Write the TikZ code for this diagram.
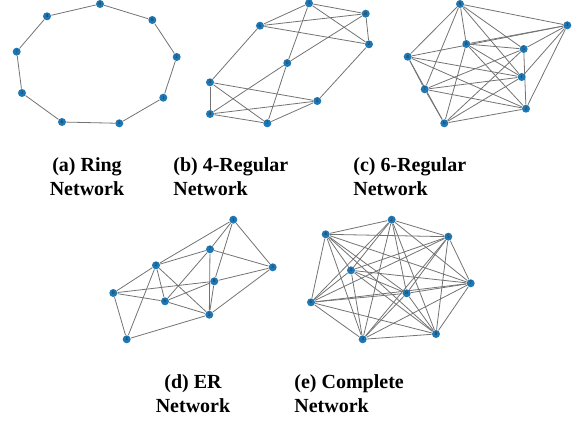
\documentclass[tikz,border=0pt]{standalone}
\usepackage{fontspec}
\setmainfont{Liberation Serif}
\usepackage{tikz}
\usetikzlibrary{backgrounds}
\definecolor{nodeblue}{HTML}{1F77B4}

\begin{document}
\begin{tikzpicture}[x=0.5pt,y=-0.5pt,
  vertex/.style={circle,fill=nodeblue,inner sep=0pt,minimum size=4pt,text=black!85,font=\fontsize{2.5}{2.5}\selectfont},
  link/.style={draw=black!55,line width=0.4pt},
  subcap/.style={font=\bfseries\fontsize{10}{11.5}\selectfont,inner sep=0pt}]

    \useasboundingbox (0,0) rectangle (580,423);

    % (a) ring
    \foreach \n/\x/\y in {0/100/4, 8/152.3/20, 2/176.7/57, 1/163.3/97.7, 5/119.3/123.3,
        6/62/122, 3/22/93, 7/16.7/51.7, 4/47/16.3}
        \node[vertex] (a\n) at (\x,\y) {\n};
    \begin{scope}[on background layer]
        \foreach \u/\v in {0/8, 8/2, 2/1, 1/5, 5/6, 6/3, 3/7, 7/4, 4/0}
            \draw[link] (a\u) -- (a\v);
    \end{scope}

    % (b) 4-regular
    \foreach \n/\x/\y in {1/309/3.3, 8/365.7/13.7, 2/369/44.3, 6/260/25.7, 0/287.3/63,
        3/210/82.3, 5/317.3/101, 4/210/114, 7/267.3/123.3}
        \node[vertex] (b\n) at (\x,\y) {\n};
    \begin{scope}[on background layer]
        \foreach \u/\v in {1/8, 1/6, 1/2, 1/0, 8/6, 8/2, 8/0, 2/6, 2/5, 6/3,
            0/4, 0/7, 3/4, 3/5, 3/7, 4/5, 4/7, 5/7}
            \draw[link] (b\u) -- (b\v);
    \end{scope}

    % (c) 6-regular
    \foreach \n/\x/\y in {0/460/4, 3/567.3/25.3, 8/466.3/44, 5/523.7/49, 4/407.7/56.7,
        1/521.7/77, 7/424.7/89.3, 2/526/108.7, 6/444.3/123.3}
        \node[vertex] (c\n) at (\x,\y) {\n};
    \begin{scope}[on background layer]
        \foreach \u/\v in {0/1, 0/3, 0/4, 0/5, 0/7, 0/8, 1/3, 1/4, 1/6, 1/7, 1/8,
            2/3, 2/4, 2/5, 2/6, 2/7, 2/8, 3/4, 3/5, 3/8, 4/6, 4/7, 5/6, 5/7, 5/8,
            6/7, 6/8}
            \draw[link] (c\u) -- (c\v);
    \end{scope}

    % (d) ER
    \foreach \n/\x/\y in {1/233.3/219.7, 7/210/249.3, 3/272.7/267.3, 2/156/265.3,
        8/214.3/281.3, 0/113.3/293, 6/165/301.3, 5/209.3/314.7, 4/126.7/339.3}
        \node[vertex] (d\n) at (\x,\y) {\n};
    \begin{scope}[on background layer]
        \foreach \u/\v in {1/2, 1/7, 1/3, 1/8, 7/2, 7/3, 7/6, 7/5, 2/0, 2/4, 2/6,
            2/5, 0/8, 0/6, 0/4, 8/3, 8/6, 8/5, 6/5, 5/3, 5/4}
            \draw[link] (d\u) -- (d\v);
    \end{scope}

    % (e) complete
    \foreach \n/\x/\y in {2/391.7/219.7, 4/325.7/234.3, 5/448.3/236.7, 1/351/270.3,
        7/470.7/283.3, 8/406.7/293.3, 6/311/302.3, 3/362.7/339.3, 0/436/334}
        \node[vertex] (e\n) at (\x,\y) {\n};
    \begin{scope}[on background layer]
        \foreach \u in {0,...,7}{
            \pgfmathtruncatemacro\w{\u+1}
            \foreach \v in {\w,...,8}
                \draw[link] (e\u) -- (e\v);
        }
    \end{scope}

    % captions
    \node[subcap,anchor=base] (capa) at (87,171) {(a) Ring};
    \node[subcap,anchor=base] (capa2) at (87,195) {Network};
    \node[subcap,anchor=base west] (capb) at (173,171) {(b) 4-Regular};
    \node[subcap,anchor=base west] (capb2) at (173,195) {Network};
    \node[subcap,anchor=base west] (capc) at (353,171) {(c) 6-Regular};
    \node[subcap,anchor=base west] (capc2) at (353,195) {Network};
    \node[subcap,anchor=base] (capd) at (193,388) {(d) ER};
    \node[subcap,anchor=base] (capd2) at (193,412.5) {Network};
    \node[subcap,anchor=base west] (cape) at (294,388) {(e) Complete};
    \node[subcap,anchor=base west] (cape2) at (294,412.5) {Network};
\end{tikzpicture}
\end{document}
